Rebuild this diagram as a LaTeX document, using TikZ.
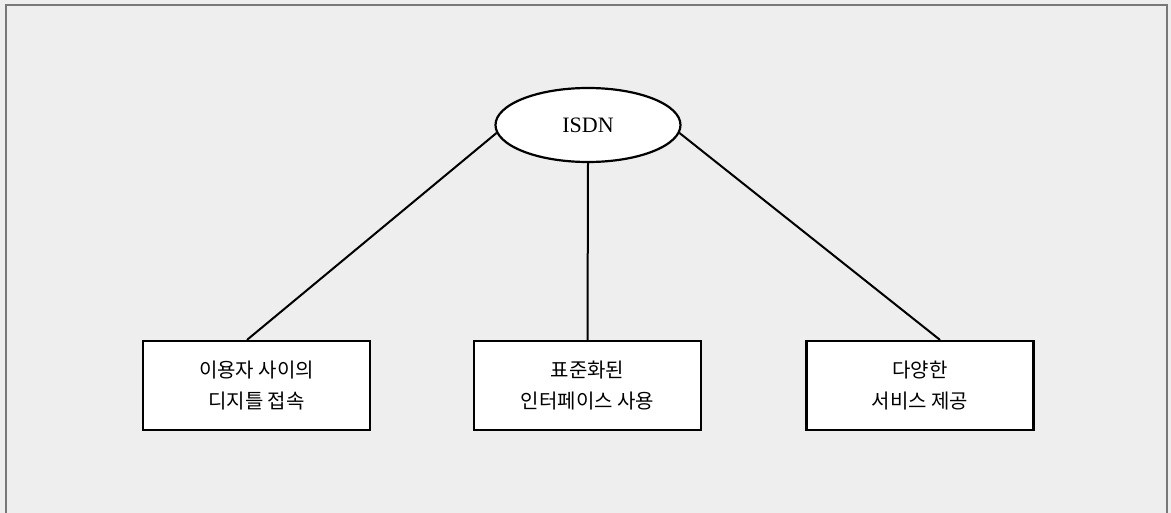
\documentclass[tikz,border=0pt]{standalone}
\usepackage{fontspec}
\newfontfamily\kr{Noto Sans CJK KR}
\newfontfamily\isdnfont{Liberation Serif}
\usetikzlibrary{shapes.geometric,calc}
\definecolor{paper}{RGB}{238,238,238}
\definecolor{framecol}{RGB}{120,120,120}
\tikzset{
  box/.style={draw=black, line width=2.2pt, fill=white, minimum width=227pt, minimum height=89pt,
    inner sep=0pt, align=center, font=\kr\fontsize{20}{31}\selectfont},
  hub/.style={ellipse, draw=black, line width=2.2pt, fill=white, minimum width=185pt, minimum height=74pt,
    inner sep=0pt, font=\isdnfont\fontsize{22}{26}\selectfont},
  link/.style={line width=2pt}
}
\begin{document}
\begin{tikzpicture}[x=1pt,y=-1pt]
\fill[paper] (0,0) rectangle (1171,513);
\useasboundingbox (0,0) rectangle (1171,513);
\draw[framecol, line width=1.5pt] (6,513) -- (6,5) -- (1167,5) -- (1167,513);
\node[hub] (isdn) at (588,125) {ISDN};
\node[box] (b1) at (256.5,385.5) {이용자 사이의\\디지틀 접속};
\node[box] (b2) at (587.5,385.5) {표준화된\\인터페이스 사용};
\node[box] (b3) at (920,385.5) {다양한\\서비스 제공};
\draw[link] (isdn.185) -- ($(b1.north)+(-9.5,0)$);
\draw[link] (isdn.south) -- (b2.north);
\draw[link] (isdn.-5) -- ($(b3.north)+(20,0)$);
\end{tikzpicture}
\end{document}
